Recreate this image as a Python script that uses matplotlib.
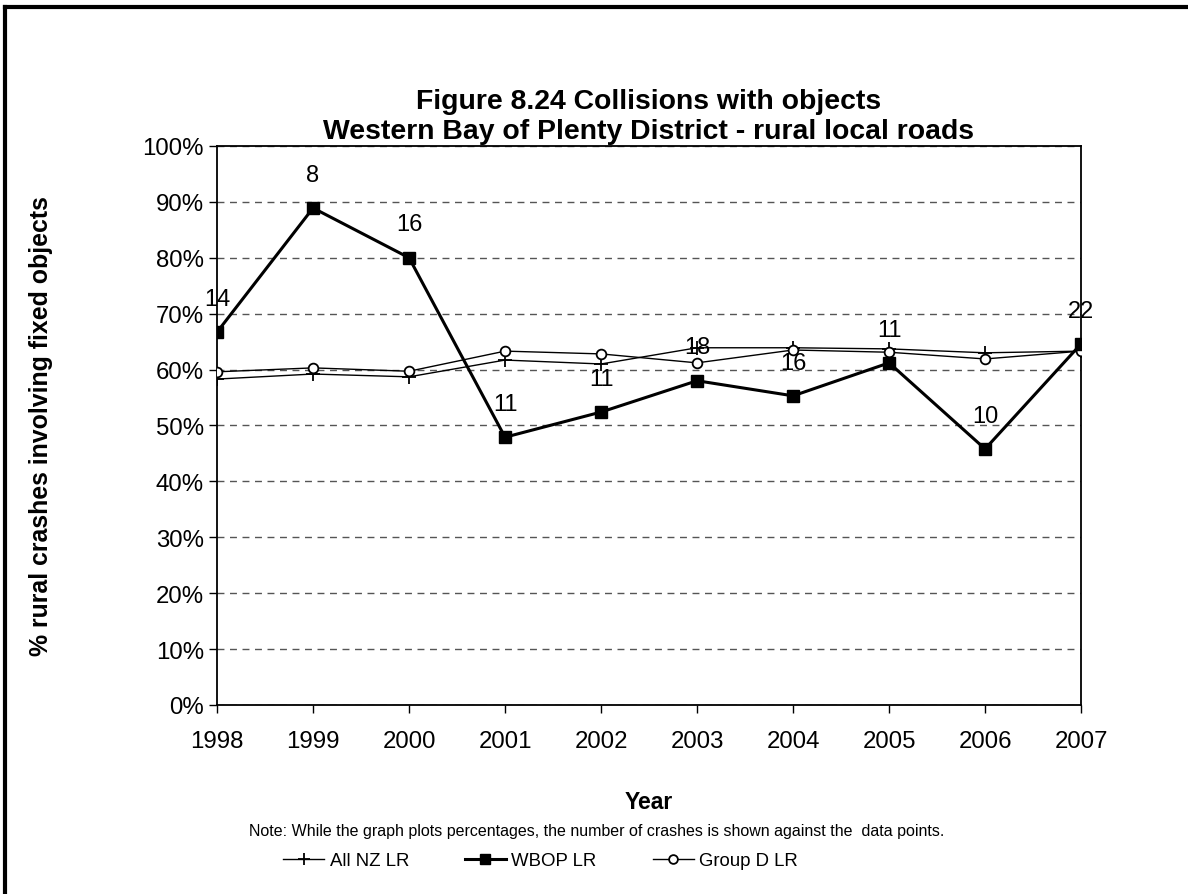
import matplotlib
matplotlib.use("Agg")
from matplotlib import pyplot as plt
from matplotlib.lines import Line2D

plt.rcParams['font.family'] = ['Liberation Sans', 'DejaVu Sans']

years = [1998, 1999, 2000, 2001, 2002, 2003, 2004, 2005, 2006, 2007]
all_nz = [58.3, 59.2, 58.7, 61.7, 61.0, 63.9, 63.9, 63.7, 63.0, 63.3]
wbop = [66.7, 88.9, 80.0, 47.9, 52.4, 58.0, 55.3, 61.2, 45.8, 64.6]
group_d = [59.6, 60.3, 59.7, 63.3, 62.8, 61.2, 63.5, 63.1, 61.9, 63.3]
wbop_counts = [14, 8, 16, 11, 11, 18, 16, 11, 10, 22]
yticks = list(range(0, 101, 10))

fig = plt.figure(figsize=(11.88, 8.95), dpi=100)
ax = fig.add_axes([0.1827, 0.2112, 0.7273, 0.6246])

ax.plot(years, all_nz, color="black", lw=1, marker="+", ms=10, mew=1.3,
        label="All NZ LR", zorder=3)
ax.plot(years, wbop, color="black", lw=2.2, marker="s", ms=8.5,
        label="WBOP LR", zorder=4)
ax.plot(years, group_d, color="black", lw=1, marker="o", ms=7, mew=1.3,
        mfc="white", label="Group D LR", zorder=3)

# crash counts above the WBOP points
for x, y, n in zip(years, wbop, wbop_counts):
    ax.annotate(str(n), (x, y), xytext=(0, 24), textcoords="offset points",
                ha="center", va="center", fontsize=17)

ax.set_xlim(1998, 2007)
ax.set_ylim(0, 100)
ax.set_xticks(years)
ax.set_yticks(yticks)
ax.set_yticklabels([f"{v}%" for v in yticks])
ax.tick_params(labelsize=17.3, length=6, width=1, direction="out")
ax.tick_params(axis="x", pad=12)
ax.grid(axis="y", linestyle=(0, (5, 4)), color="#555555", lw=1)
for s in ax.spines.values():
    s.set_linewidth(1.3)

ax.set_xlabel("Year", fontsize=16.5, fontweight="bold", va="top")
ax.xaxis.set_label_coords(0.5, -0.152)
ax.set_ylabel("% rural crashes involving fixed objects", fontsize=17.9,
              fontweight="bold")
ax.yaxis.set_label_coords(-0.19, 0.5)

fig.text(0.546, 0.838, "Figure 8.24 Collisions with objects\nWestern Bay of Plenty District - rural local roads",
         ha="center", va="bottom", fontsize=20.4, fontweight="bold", linespacing=1.2)
fig.text(0.502, 0.0715, "Note: While the graph plots percentages, the number of crashes is shown against the  data points.",
         ha="center", va="center", fontsize=11.5)

ax.legend(loc="center", bbox_to_anchor=(0.455, 0.037), bbox_transform=fig.transFigure,
          ncol=3, frameon=False, fontsize=13.4, handlelength=2.2, columnspacing=3.0,
          handletextpad=0.3, markerscale=0.9)

# frame round the chart (only top and left visible)
fig.add_artist(Line2D([0.0042, 0.0042], [0, 0.991], color="black", lw=3, transform=fig.transFigure))
fig.add_artist(Line2D([0.0042, 1], [0.991, 0.991], color="black", lw=3, transform=fig.transFigure))

fig.savefig("out.png", dpi=100)
